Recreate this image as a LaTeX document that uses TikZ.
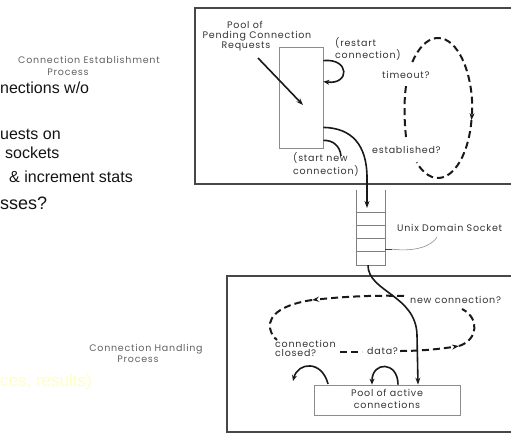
\documentclass[tikz,border=0pt]{standalone}
\usepackage{fontspec}
\setmainfont{Liberation Sans}
\newfontfamily\lblfam{Poppins}[LetterSpace=8]
\usetikzlibrary{arrows.meta,calc}
\definecolor{paleyellow}{RGB}{255,255,190}
\tikzset{
  frame/.style={draw=black!72, line width=1.8pt, inner sep=0pt},
  thinbox/.style={draw=black!45, line width=0.8pt, inner sep=0pt},
  flow/.style={line width=1.6pt, black!90},
  dflow/.style={line width=2pt, black!90, dash pattern=on 7pt off 4pt},
  tipA/.style={-{Stealth[length=7pt,width=5pt]}},
  lbl/.style={font=\lblfam\fontsize{9.5}{10}\selectfont, text=black!80, inner sep=0pt},
  plbl/.style={font=\lblfam\fontsize{9.5}{10}\selectfont, text=black!62, inner sep=0pt},
  slide/.style={font=\fontsize{16}{18}\selectfont, text=black!92, inner sep=0pt, anchor=base west},
}
\begin{document}
\begin{tikzpicture}[x=1pt,y=-1pt]
\useasboundingbox (0,0) rectangle (511,434);
\clip (0,0) rectangle (511,434);

% slide text behind the picture
\node[slide] (s1) at (0,93) {nections w/o};
\node[slide] (s2) at (0,139) {uests on};
\node[slide] (s3) at (5,158.5) {sockets};
\node[slide] (s4) at (9,182) {\& increment stats};
\node[slide, font=\fontsize{18}{20}\selectfont] (s5) at (0,209) {sses?};
\node[slide, font=\fontsize{17}{20}\selectfont, text=paleyellow] (s6) at (0,386) {ces, results)};

% process labels
\node[plbl, anchor=base] (el1) at (89,63.5) {Connection Establishment};
\node[plbl, anchor=base] (el2) at (68,75.5) {Process};
\node[plbl, anchor=base] (hl1) at (146,351.5) {Connection Handling};
\node[plbl, anchor=base] (hl2) at (138,362.5) {Process};

% frames
\node[frame, minimum width=330, minimum height=176] (estbox) at (360,96) {};
\node[frame, minimum width=300, minimum height=156] (handbox) at (377,354) {};

% pending requests pool
\node[thinbox, minimum width=44, minimum height=101] (pend) at (301,97.5) {};
\node[lbl, anchor=base] (pp1) at (245,28.5) {Pool of};
\node[lbl, anchor=base] (pp2) at (257,38.5) {Pending Connection};
\node[lbl, anchor=base] (pp3) at (246,48.5) {Requests};
\coordinate (pa) at (258,58);
\coordinate (pb) at (303,105);
\draw[flow, tipA] (pa) -- (pb);

% restart loop
\coordinate (r1) at ($(pend.north east)+(0,14)$);
\coordinate (r2) at ($(pend.north east)+(0,35)$);
\draw[flow, -{Stealth[length=6pt,width=5pt]}] (r1) .. controls (350,58) and (350,85) .. (r2);
\node[lbl, anchor=base west] (rs1) at (335,46.5) {(restart};
\node[lbl, anchor=base west] (rs2) at (335,58.5) {connection)};

% start new connection
\coordinate (n1) at ($(pend.south east)+(0,-21)$);
\coordinate (n2) at ($(pend.south east)+(0,-8)$);
\coordinate (n3) at (341,156);
\draw[flow] (n2) .. controls (333,140) and (340,146) .. (n3);
\node[lbl, anchor=base west] (sn1) at (293,161.5) {(start new};
\node[lbl, anchor=base west] (sn2) at (293,174.5) {connection)};

% unix domain socket
\node[minimum width=28, minimum height=75, inner sep=0pt] (sock) at (371,227.5) {};
\draw[black!50, line width=0.8pt] (sock.north west) -- (sock.south west) -- (sock.south east) -- (sock.north east);
\foreach \yy in {23,36,49,62}
  \draw[black!50, line width=0.8pt] ($(sock.north west)+(0,\yy)$) -- ($(sock.north east)+(0,\yy)$);
\coordinate (sockin) at (367,208);
\draw[flow, tipA] (n1) .. controls (352,128) and (367,145) .. (367,178) -- (sockin);
\node[lbl, anchor=base west] (ulab) at (397,231.5) {Unix Domain Socket};
\coordinate (ut1) at ($(sock.south east)+(0,-16)$);
\coordinate (ut2) at ($(sock.south east)+(7,-16)$);
\coordinate (ut3) at (437,237);
\draw[black!75, line width=1.3pt] (ut1) -- (ut2);
\draw[black!45, line width=0.6pt] (ut2) .. controls (415,252) and (432,246) .. (ut3);

% timeout / established loop
\coordinate (ec) at (438,108);
\draw[dflow, tipA] (ec) ++(-139:34 and 70) arc[start angle=-139, end angle=10, x radius=34, y radius=70];
\draw[dflow] (ec) ++(10:34 and 70) arc[start angle=10, end angle=129, x radius=34, y radius=70];
\draw[dflow] (406,137) .. controls (404,118) and (404,100) .. (406,86);
\node[lbl, anchor=base west] (to) at (382,78.5) {timeout?};
\node[lbl, anchor=base west] (es) at (372,153.5) {established?};

% active connections
\node[thinbox, minimum width=146, minimum height=30] (active) at (387,400) {};
\node[lbl, anchor=base] (ac1) at (387,396.5) {Pool of active};
\node[lbl, anchor=base] (ac2) at (387,408.5) {connections};

\coordinate (sockout) at ($(sock.south)+(-3,0)$);
\coordinate (actin) at ($(active.north)+(31,0)$);
\draw[flow, tipA] (sockout) .. controls (368,292) and (416,295) .. (417,335) -- (actin);

% handling loop
\node[lbl, anchor=base west] (nc) at (410,303.5) {new connection?};
\node[lbl, anchor=base west] (cc1) at (275,347.5) {connection};
\node[lbl, anchor=base west] (cc2) at (275,356.5) {closed?};
\node[lbl, anchor=base west] (da) at (367,354.5) {data?};
\coordinate (la) at (404,296);
\coordinate (lb) at (312,300);
\coordinate (lc) at (277,340);
\draw[dflow, tipA] (la) .. controls (370,295) and (340,297) .. (lb);
\draw[dflow] (lb) .. controls (285,304) and (268,314) .. (270,328) .. controls (271,333) and (273,337) .. (lc);
\draw[dflow] (340,352) -- (362,352);
\coordinate (ra) at (400,351);
\coordinate (rb) at (459,346);
\coordinate (rc) at (462,309);
\draw[dflow, tipA] (ra) .. controls (420,351) and (440,349) .. (rb);
\draw[dflow] (rb) .. controls (478,340) and (480,318) .. (rc);

% arcs onto the active pool
\coordinate (aa1) at (328,384);
\coordinate (aa2) at (293,381);
\draw[flow, -{Stealth[length=6pt,width=5pt]}] (aa1) .. controls (322,360) and (298,362) .. (aa2);
\coordinate (ab1) at ($(active.north)+(11,0)$);
\coordinate (ab2) at ($(active.north)+(-15,0)$);
\draw[flow, -{Stealth[length=6pt,width=5pt]}] (ab1) .. controls (398,361) and (372,361) .. (ab2);
\end{tikzpicture}
\end{document}
